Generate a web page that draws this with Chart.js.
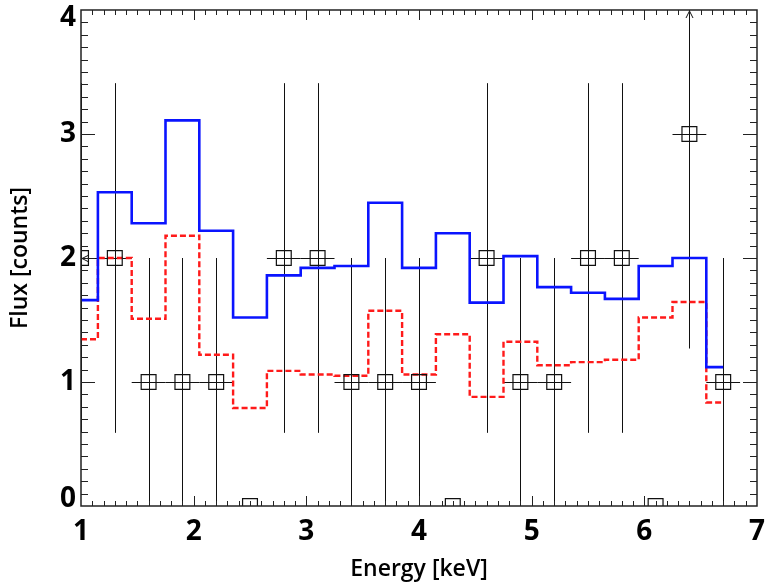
<!DOCTYPE html>
<html>
<head>
<meta charset="utf-8">
<title>Flux vs Energy</title>
<script src="https://cdn.jsdelivr.net/npm/chart.js@4.4.0/dist/chart.umd.min.js"></script>
<style>
  html, body { margin: 0; padding: 0; background: #fff; }
</style>
</head>
<body>
<canvas id="spectrum" width="765" height="583"></canvas>
<script>
// bin centres [keV], 0.3 keV wide
const energy = [1.0, 1.3, 1.6, 1.9, 2.2, 2.5, 2.8, 3.1, 3.4, 3.7, 4.0, 4.3, 4.6, 4.9, 5.2, 5.5, 5.8, 6.1, 6.4, 6.7];
const binHalf = 0.15;
// observed counts and their errors
const counts   = [2, 2, 1, 1, 1, 0, 2, 2, 1, 1, 1, 0, 2, 1, 1, 2, 2, 0, 3, 1];
const countErr = [1.41, 1.41, 1, 1, 1, 0, 1.41, 1.41, 1, 1, 1, 0, 1.41, 1, 1, 1.41, 1.41, 0, 1.73, 1];
// model curves (blue solid, red dashed)
const modelBlue = [1.66, 2.53, 2.28, 3.11, 2.22, 1.52, 1.86, 1.92, 1.935, 2.445, 1.92, 2.20, 1.64, 2.015, 1.765, 1.72, 1.67, 1.935, 2.0, 1.12];
const modelRed  = [1.345, 2.0, 1.51, 2.18, 1.22, 0.79, 1.09, 1.06, 1.05, 1.575, 1.06, 1.385, 0.88, 1.325, 1.135, 1.16, 1.18, 1.52, 1.645, 0.835];
const xTicks = [1, 2, 3, 4, 5, 6, 7];
const yTicks = [0, 1, 2, 3, 4];

const pts = arr => energy.map((e, i) => ({ x: e, y: arr[i] }));

// error bars, inward tick marks, frame and y labels
const frame = {
    id: 'frame',
    beforeDatasetsDraw(chart) {
        const { ctx, chartArea: a, scales: { x, y } } = chart;
        ctx.save();
        ctx.beginPath();
        ctx.rect(a.left, a.top, a.right - a.left, a.bottom - a.top);
        ctx.clip();
        ctx.strokeStyle = '#111';
        ctx.lineWidth = 1;
        for (let i = 0; i < energy.length; i++) {
            const px = Math.round(x.getPixelForValue(energy[i])) + 0.5;
            const py = Math.round(y.getPixelForValue(counts[i])) + 0.5;
            ctx.beginPath();
            if (countErr[i] > 0) {
                ctx.moveTo(px, y.getPixelForValue(counts[i] - countErr[i]));
                ctx.lineTo(px, y.getPixelForValue(counts[i] + countErr[i]));
            }
            ctx.moveTo(x.getPixelForValue(energy[i] - binHalf), py);
            ctx.lineTo(x.getPixelForValue(energy[i] + binHalf), py);
            // arrows where a bar runs off the plot
            if (counts[i] + countErr[i] > y.max) {
                ctx.moveTo(px - 3.5, a.top + 8);
                ctx.lineTo(px, a.top + 1);
                ctx.lineTo(px + 3.5, a.top + 8);
            }
            if (energy[i] - binHalf < x.min) {
                ctx.moveTo(a.left + 8, py - 3.5);
                ctx.lineTo(a.left + 1, py);
                ctx.lineTo(a.left + 8, py + 3.5);
            }
            ctx.stroke();
        }
        ctx.restore();
    },
    afterDraw(chart) {
        const { ctx, chartArea: a, scales: { x, y } } = chart;
        ctx.save();
        ctx.strokeStyle = '#222';
        ctx.lineWidth = 1;
        ctx.beginPath();
        for (let k = 1; k < 60; k++) {
            const px = Math.round(x.getPixelForValue(x.min + k / 10)) + 0.5;
            const len = k % 10 === 0 ? 10 : 5;
            ctx.moveTo(px, a.bottom); ctx.lineTo(px, a.bottom - len);
            ctx.moveTo(px, a.top); ctx.lineTo(px, a.top + len);
        }
        for (let k = 1; k < 40; k++) {
            const py = Math.round(y.getPixelForValue(y.min + k / 10)) + 0.5;
            const len = k % 10 === 0 ? 14 : 7;
            ctx.moveTo(a.left, py); ctx.lineTo(a.left + len, py);
            ctx.moveTo(a.right, py); ctx.lineTo(a.right - len, py);
        }
        ctx.stroke();
        ctx.lineWidth = 1.5;
        ctx.strokeRect(a.left, a.top, a.right - a.left, a.bottom - a.top);

        ctx.fillStyle = '#000';
        ctx.font = 'bold 28px "Open Sans"';
        ctx.textAlign = 'right';
        ctx.textBaseline = 'middle';
        yTicks.forEach(v => {
            let py = y.getPixelForValue(v);
            py = Math.min(Math.max(py, a.top + 8), a.bottom - 7);
            ctx.fillText(String(v), a.left - 5, py);
        });
        ctx.restore();
    }
};

const ctx = document.getElementById('spectrum').getContext('2d');
new Chart(ctx, {
    type: 'scatter',
    data: {
        datasets: [{
            label: 'Data',
            data: pts(counts),
            pointStyle: 'rect',
            pointRadius: 10.5,
            pointBorderWidth: 1.2,
            pointBorderColor: '#111',
            pointBackgroundColor: 'rgba(0,0,0,0)',
            clip: 0
        }, {
            label: 'Model',
            data: pts(modelBlue),
            showLine: true,
            stepped: 'middle',
            borderColor: '#0a14ff',
            borderWidth: 2.6,
            pointRadius: 0,
            clip: 0
        }, {
            label: 'Component',
            data: pts(modelRed),
            showLine: true,
            stepped: 'middle',
            borderColor: '#ff1a1a',
            borderWidth: 2.4,
            borderDash: [6, 3],
            pointRadius: 0,
            clip: 0
        }]
    },
    options: {
        responsive: false,
        animation: false,
        layout: { autoPadding: false, padding: { top: 10, right: 8, left: 0, bottom: 0 } },
        scales: {
            x: {
                type: 'linear',
                min: 1, max: 7,
                afterBuildTicks: s => { s.ticks = xTicks.map(v => ({ value: v })); },
                afterFit: s => { s.height = 77; s.paddingLeft = 0; s.paddingRight = 0; },
                grid: { display: false, drawTicks: false },
                border: { display: false },
                ticks: {
                    color: '#000',
                    padding: 9,
                    maxRotation: 0,
                    autoSkip: false,
                    font: { family: 'Open Sans', size: 28, weight: 'bold' }
                },
                title: {
                    display: true,
                    text: 'Energy [keV]',
                    color: '#000',
                    padding: { top: 0, bottom: 0 },
                    font: { family: 'Open Sans', size: 23, weight: '600' }
                }
            },
            y: {
                type: 'linear',
                min: 0, max: 4,
                afterFit: s => { s.width = 81; s.paddingTop = 0; s.paddingBottom = 0; },
                grid: { display: false, drawTicks: false },
                border: { display: false },
                ticks: { display: false, stepSize: 1 },
                title: {
                    display: true,
                    text: 'Flux [counts]',
                    color: '#000',
                    padding: { top: 7, bottom: 0 },
                    font: { family: 'Open Sans', size: 23, weight: '600' }
                }
            }
        },
        plugins: {
            legend: { display: false },
            tooltip: { enabled: false }
        }
    },
    plugins: [frame]
});
</script>
</body>
</html>
